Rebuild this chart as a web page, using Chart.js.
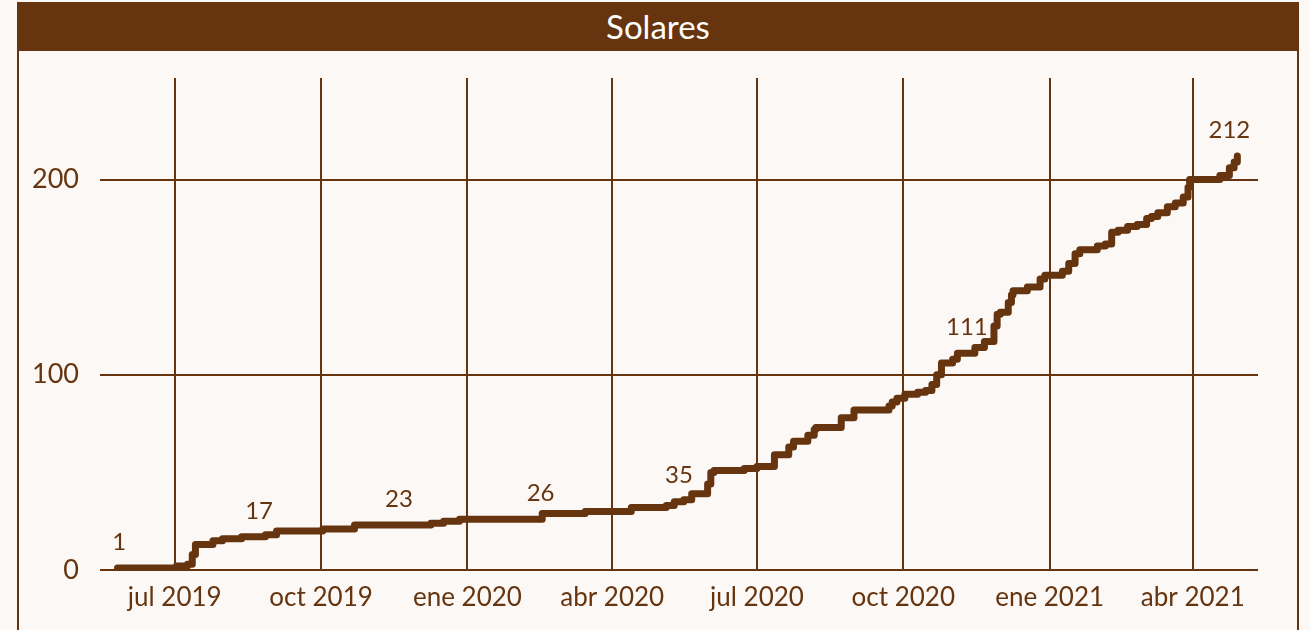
<!DOCTYPE html>
<html>
<head>
<meta charset="utf-8">
<title>Solares</title>
<script src="https://cdn.jsdelivr.net/npm/chart.js@4.4.1/dist/chart.umd.min.js"></script>
<style>
  html, body { margin: 0; padding: 0; background: #fcf8f5; }
  #wrap { position: relative; width: 1310px; height: 630px; overflow: hidden; background: #fcf8f5; }
  #frame { position: absolute; left: 17px; top: 2px; width: 1278px; height: 700px; border-left: 2px solid #66340f; border-right: 2px solid #66340f; }
  #title { position: absolute; left: 17px; top: 2px; width: 1282px; height: 49px; background: #66340f; color: #ffffff;
           font: 33px Lato, "Open Sans", sans-serif; text-align: center; line-height: 49px; }
  canvas { position: absolute; left: 0; top: 0; }
</style>
</head>
<body>
<div id="wrap">
  <div id="frame"></div>
  <div id="title">Solares</div>
  <canvas id="solaresChart" width="1310" height="630"></canvas>
</div>
<script>
// cumulative count, one entry per step (date the new total starts)
var stepDates = [
  '2019-05-26', '2019-07-02', '2019-07-09', '2019-07-12', '2019-07-14', '2019-07-25', '2019-07-31',
  '2019-08-12', '2019-08-27', '2019-09-03', '2019-10-02', '2019-10-22', '2019-12-09', '2019-12-17',
  '2019-12-27', '2020-02-17', '2020-03-15', '2020-04-13', '2020-05-05', '2020-05-10', '2020-05-16',
  '2020-05-21', '2020-05-31', '2020-06-02', '2020-06-04', '2020-06-23', '2020-07-01', '2020-07-12',
  '2020-07-21', '2020-07-24', '2020-08-02', '2020-08-06', '2020-08-07', '2020-08-23', '2020-08-31',
  '2020-09-22', '2020-09-24', '2020-09-27', '2020-10-02', '2020-10-10', '2020-10-15', '2020-10-19',
  '2020-10-22', '2020-10-25', '2020-11-01', '2020-11-04', '2020-11-15', '2020-11-21', '2020-11-27',
  '2020-11-29', '2020-12-01', '2020-12-06', '2020-12-08', '2020-12-09', '2020-12-18', '2020-12-26',
  '2020-12-29', '2021-01-09', '2021-01-13', '2021-01-17', '2021-01-20', '2021-01-31', '2021-02-05',
  '2021-02-09', '2021-02-13', '2021-02-19', '2021-02-25', '2021-03-03', '2021-03-06', '2021-03-10',
  '2021-03-16', '2021-03-21', '2021-03-26', '2021-03-29', '2021-03-30', '2021-04-18', '2021-04-24',
  '2021-04-27', '2021-04-29'
];
var stepValues = [
  1, 2, 3, 8, 13, 15, 16,
  17, 18, 20, 21, 23, 24, 25,
  26, 29, 30, 32, 33, 35, 36,
  39, 44, 50, 51, 52, 53, 59,
  63, 66, 69, 72, 73, 78, 82,
  84, 86, 88, 90, 91, 92, 95,
  100, 106, 108, 111, 114, 117, 125,
  131, 132, 137, 141, 143, 145, 149,
  151, 153, 157, 162, 164, 166, 167,
  173, 174, 176, 177, 180, 181, 183,
  186, 188, 191, 196, 200, 202, 206,
  209, 212
];

// values written above the line
var labelDates = ['2019-05-27', '2019-08-23', '2019-11-19', '2020-02-16', '2020-05-13', '2020-11-10', '2021-04-24'];
var labelValues = [1, 17, 23, 26, 35, 111, 212];

// x axis
var xStart = '2019-05-15', xEnd = '2021-05-12';
var tickDates = ['2019-07-01', '2019-10-01', '2020-01-01', '2020-04-01', '2020-07-01', '2020-10-01', '2021-01-01', '2021-04-01'];
var tickLabels = ['jul 2019', 'oct 2019', 'ene 2020', 'abr 2020', 'jul 2020', 'oct 2020', 'ene 2021', 'abr 2021'];

// y axis
var yTicks = [0, 100, 200];
var yMax = 252;

(function(){
  var brown = '#66340f';
  var font = 'Lato, "Open Sans", sans-serif';

  function dayNum(s){
    var p = s.split('-');
    return Date.UTC(+p[0], +p[1] - 1, +p[2]) / 86400000;
  }

  var points = stepDates.map(function(d, i){ return { x: dayNum(d), y: stepValues[i] }; });
  var tickDays = tickDates.map(dayNum);

  var valueLabels = {
    id: 'valueLabels',
    afterDatasetsDraw: function(chart){
      var ctx = chart.ctx;
      var xs = chart.scales.x, ys = chart.scales.y;
      ctx.save();
      ctx.font = '24px ' + font;
      ctx.fillStyle = brown;
      ctx.textAlign = 'center';
      ctx.textBaseline = 'middle';
      labelDates.forEach(function(d, i){
        var px = xs.getPixelForValue(dayNum(d));
        var py = ys.getPixelForValue(labelValues[i]) - 26;
        ctx.fillText(String(labelValues[i]), px, py);
      });
      ctx.restore();
    }
  };

  new Chart(document.getElementById('solaresChart').getContext('2d'), {
    type: 'line',
    data: {
      datasets: [{
        label: 'Solares',
        data: points,
        parsing: false,
        stepped: true,
        borderColor: brown,
        borderWidth: 7,
        borderCapStyle: 'round',
        borderJoinStyle: 'round',
        pointRadius: 0,
        fill: false
      }]
    },
    options: {
      responsive: false,
      animation: false,
      devicePixelRatio: 1,
      layout: { padding: { left: 0, right: 52, top: 78, bottom: 0 } },
      plugins: { legend: { display: false }, tooltip: { enabled: false } },
      scales: {
        x: {
          type: 'linear',
          min: dayNum(xStart),
          max: dayNum(xEnd),
          afterBuildTicks: function(s){ s.ticks = tickDays.map(function(v){ return { value: v }; }); },
          afterFit: function(s){ s.height = 60; },
          border: { display: false },
          grid: { color: brown, lineWidth: 2, drawTicks: false },
          ticks: {
            autoSkip: false,
            maxRotation: 0,
            padding: 12,
            color: brown,
            font: { family: font, size: 26 },
            callback: function(v, i){ return tickLabels[i]; }
          }
        },
        y: {
          min: 0,
          max: yMax,
          afterBuildTicks: function(s){ s.ticks = yTicks.map(function(v){ return { value: v }; }); },
          afterFit: function(s){ s.width = 100; },
          border: { display: false },
          grid: { color: brown, lineWidth: 2, drawTicks: false },
          ticks: {
            padding: 21,
            color: brown,
            font: { family: font, size: 27 },
            callback: function(v){ return String(v); }
          }
        }
      }
    },
    plugins: [valueLabels]
  });
})();
</script>
</body>
</html>
